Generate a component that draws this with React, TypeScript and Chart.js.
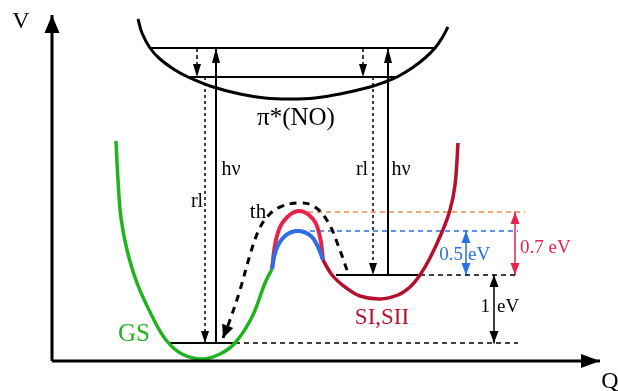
import React, { useEffect, useRef } from "react";
import { Chart, registerables } from "chart.js";
Chart.register(...registerables);

type P = [number, number];

// Coordinates: Q (configuration coordinate) and V (energy), schematic units
const piCurve: P[] = [
  [86, 342], [90, 328], [98, 313], [108, 302], [123, 291], [136, 284], [158, 275], [188, 267],
  [213, 263], [238, 262], [263, 263], [288, 267], [318, 274], [333, 279], [345, 284], [360, 293],
  [373, 303], [383, 313], [390, 323], [396, 334],
];
const gsCurve: P[] = [
  [64, 220], [66, 181], [69, 143], [75, 111], [85, 78], [100, 45], [114, 21], [130, 7],
  [150, 2], [168, 7], [183, 18], [200, 44], [213, 78], [220, 92],
];
const barrierLow: P[] = [
  [220, 92], [224, 111], [233, 125], [246, 130], [259, 125], [266, 114], [271, 101],
];
const barrierHigh: P[] = [
  [220, 92], [224, 121], [231, 139], [246, 150], [261, 142], [268, 124], [271, 101],
];
const siCurve: P[] = [
  [271, 101], [280, 86], [293, 74], [308, 65], [328, 62], [346, 66], [358, 74], [368, 86],
  [378, 103], [390, 129], [398, 151], [403, 176], [406, 218],
];
const thPath: P[] = [
  [171, 23], [178, 41], [188, 71], [198, 106], [206, 129], [215, 144], [228, 154],
  [248, 158], [263, 154], [276, 139], [286, 116], [295, 91],
];

// [V, Qfrom, Qto]
const solidLevels: [number, number, number][] = [
  [313, 98, 383], [284, 136, 345], [18, 116, 183], [86, 284, 368],
];
const blackGuides: [number, number, number][] = [[18, 183, 466], [86, 368, 466]];
const blueGuide: [number, number, number] = [130, 258, 466];
const orangeGuide: [number, number, number] = [149, 256, 473];

// [Q, Vfrom, Vto]
const excitation: [number, number, number][] = [[164, 18, 313], [336, 86, 313]];
const relaxShort: [number, number, number][] = [[145, 313, 284], [311, 313, 284]];
const relaxLong: [number, number, number][] = [[153, 284, 18], [321, 284, 86]];
const gap07: [number, number, number] = [463, 149, 86];
const gap05: [number, number, number] = [414, 130, 86];
const gap1: [number, number, number] = [442, 86, 18];

const axisV: P[] = [[0, 0], [0, 346]];
const axisQ: P[] = [[0, 0], [548, 0]];

const GREEN = "#1fb41f";
const DARKRED = "#b5102e";
const RED = "#e8234b";
const BLUE = "#2a6fe4";
const ORANGE = "#f08a4a";
const SERIF = '"Liberation Serif", "DejaVu Serif", serif';

const labels: { t: string; q: number; v: number; size: number; color: string; align: CanvasTextAlign }[] = [
  { t: "V", q: -31, v: 339, size: 24, color: "#000", align: "center" },
  { t: "Q", q: 558, v: -21, size: 24, color: "#000", align: "center" },
  { t: "π*(NO)", q: 244, v: 243, size: 25, color: "#000", align: "center" },
  { t: "hν", q: 179, v: 191, size: 20, color: "#000", align: "center" },
  { t: "rl", q: 145, v: 159, size: 20, color: "#000", align: "center" },
  { t: "rl", q: 310, v: 191, size: 20, color: "#000", align: "center" },
  { t: "hν", q: 349, v: 191, size: 20, color: "#000", align: "center" },
  { t: "th", q: 206, v: 149, size: 21, color: "#000", align: "center" },
  { t: "GS", q: 82, v: 27, size: 25, color: GREEN, align: "center" },
  { t: "SI,SII", q: 330, v: 43, size: 23, color: DARKRED, align: "center" },
  { t: "0.5", q: 411, v: 106, size: 19, color: BLUE, align: "right" },
  { t: "eV", q: 416, v: 106, size: 19, color: BLUE, align: "left" },
  { t: "0.7 eV", q: 468, v: 113, size: 19, color: RED, align: "left" },
  { t: "1", q: 438, v: 54, size: 19, color: "#000", align: "right" },
  { t: "eV", q: 445, v: 54, size: 19, color: "#000", align: "left" },
];

function line(points: P[], o: any) {
  return {
    data: points.map(([x, y]) => ({ x, y })),
    showLine: true,
    pointRadius: 0,
    pointHoverRadius: 0,
    fill: false,
    clip: false,
    borderColor: o.color,
    borderWidth: o.width ?? 2,
    borderDash: o.dash ?? [],
    borderCapStyle: "butt",
    borderJoinStyle: "round",
    cubicInterpolationMode: "default",
    tension: o.smooth ? 0.4 : 0,
    arrow: o.arrow,
    arrowSize: o.arrowSize ?? [14, 4],
  };
}

const arrowPlugin = {
  id: "arrows",
  afterDatasetsDraw(chart: any) {
    const ctx = chart.ctx;
    chart.data.datasets.forEach((d: any, i: number) => {
      if (!d.arrow) return;
      const pts = chart.getDatasetMeta(i).data;
      if (pts.length < 2) return;
      const [len, hw] = d.arrowSize;
      const head = (tip: any, from: any) => {
        const a = Math.atan2(tip.y - from.y, tip.x - from.x);
        ctx.save();
        ctx.fillStyle = d.borderColor;
        ctx.beginPath();
        ctx.moveTo(tip.x, tip.y);
        ctx.lineTo(tip.x - len * Math.cos(a) + hw * Math.sin(a), tip.y - len * Math.sin(a) - hw * Math.cos(a));
        ctx.lineTo(tip.x - len * Math.cos(a) - hw * Math.sin(a), tip.y - len * Math.sin(a) + hw * Math.cos(a));
        ctx.closePath();
        ctx.fill();
        ctx.restore();
      };
      if (d.arrow === "end" || d.arrow === "both") head(pts[pts.length - 1], pts[pts.length - 2]);
      if (d.arrow === "start" || d.arrow === "both") head(pts[0], pts[1]);
    });
  },
  afterDraw(chart: any) {
    const ctx = chart.ctx;
    const xs = chart.scales.x;
    const ys = chart.scales.y;
    ctx.save();
    ctx.textBaseline = "middle";
    labels.forEach((l) => {
      ctx.font = `${l.size}px ${SERIF}`;
      ctx.fillStyle = l.color;
      ctx.textAlign = l.align;
      ctx.fillText(l.t, xs.getPixelForValue(l.q), ys.getPixelForValue(l.v));
    });
    ctx.restore();
  },
};

export default function App() {
  const ref = useRef<HTMLCanvasElement>(null);
  useEffect(() => {
    document.body.style.margin = "0";
    const h = (v: [number, number, number]): P[] => [[v[1], v[0]], [v[2], v[0]]];
    const vert = (v: [number, number, number]): P[] => [[v[0], v[1]], [v[0], v[2]]];
    const datasets: any[] = [
      line(axisV, { color: "#000", width: 3, arrow: "end", arrowSize: [18, 7.5] }),
      line(axisQ, { color: "#000", width: 3, arrow: "end", arrowSize: [19, 7] }),
      line(barrierLow, { color: BLUE, width: 4, smooth: true }),
      line(barrierHigh, { color: RED, width: 4, smooth: true }),
      line(gsCurve, { color: GREEN, width: 3.5, smooth: true }),
      line(siCurve, { color: DARKRED, width: 3.5, smooth: true }),
      line(piCurve, { color: "#000", width: 3, smooth: true }),
      line(thPath, { color: "#000", width: 3, dash: [7, 6], smooth: true, arrow: "start", arrowSize: [13, 6] }),
      ...solidLevels.map((s) => line(h(s), { color: "#000", width: 2 })),
      ...blackGuides.map((s) => line(h(s), { color: "#000", width: 1.3, dash: [5, 4] })),
      line(h(blueGuide), { color: BLUE, width: 1.3, dash: [5, 4] }),
      line(h(orangeGuide), { color: ORANGE, width: 1.3, dash: [5, 4] }),
      ...excitation.map((s) => line(vert(s), { color: "#000", width: 2, arrow: "end", arrowSize: [15, 4] })),
      ...relaxShort.map((s) => line(vert(s), { color: "#000", width: 1.5, dash: [4, 3], arrow: "end", arrowSize: [13, 4] })),
      ...relaxLong.map((s) => line(vert(s), { color: "#000", width: 1.5, dash: [3, 3], arrow: "end", arrowSize: [12, 4] })),
      line(vert(gap07), { color: RED, width: 1.5, arrow: "both", arrowSize: [12, 4.5] }),
      line(vert(gap05), { color: BLUE, width: 1.5, arrow: "both", arrowSize: [12, 4.5] }),
      line(vert(gap1), { color: "#000", width: 1.5, arrow: "both", arrowSize: [12, 4.5] }),
    ];
    const chart = new Chart(ref.current!, {
      type: "scatter",
      data: { datasets },
      options: {
        animation: false,
        responsive: false,
        devicePixelRatio: 1,
        layout: { padding: 0 },
        events: [],
        scales: {
          x: { type: "linear", min: -52, max: 566, display: false },
          y: { type: "linear", min: -30, max: 361, display: false },
        },
        plugins: { legend: { display: false }, tooltip: { enabled: false } },
      },
      plugins: [arrowPlugin],
    } as any);
    return () => chart.destroy();
  }, []);
  return (
    <div style={{ position: "absolute", left: 0, top: 0, width: 618, height: 391, background: "#fff" }}>
      <canvas ref={ref} width={618} height={391} />
    </div>
  );
}
